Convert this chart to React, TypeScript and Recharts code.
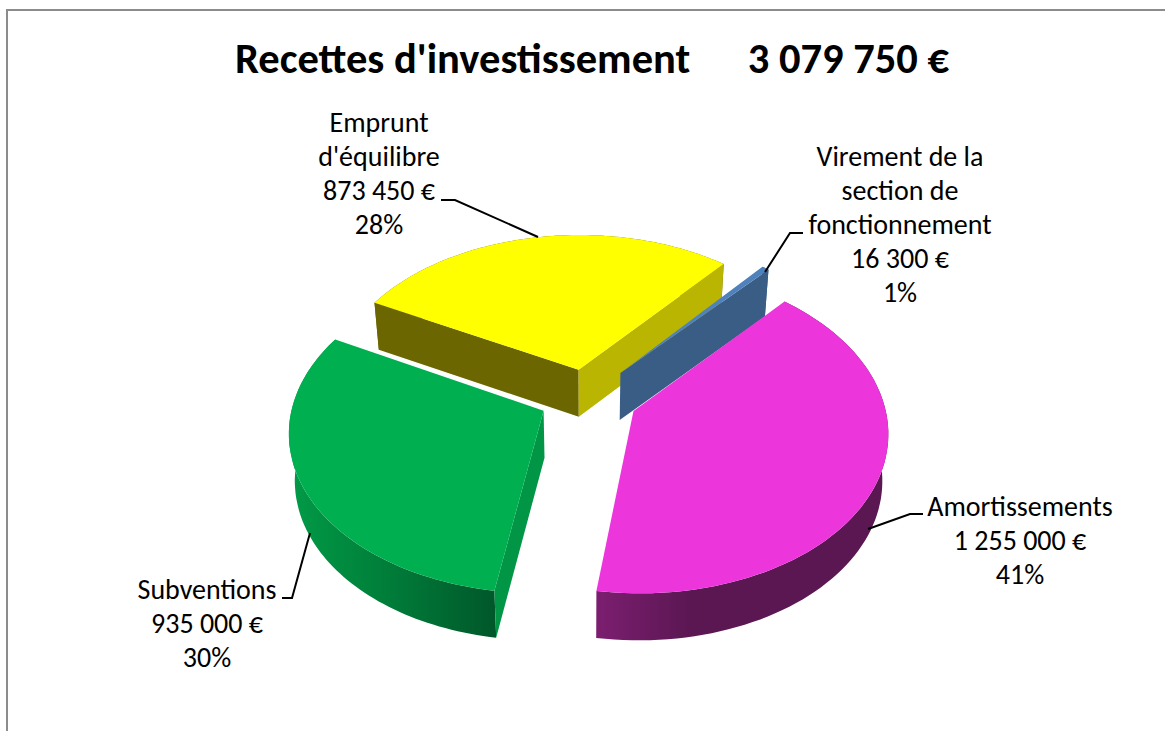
import React from "react";
import { PieChart, Pie } from "recharts";

const categories = ["Emprunt d'équilibre", "Virement de la section de fonctionnement", "Amortissements", "Subventions"];
const amounts = [873450, 16300, 1255000, 935000];
const labelLines = [
  ["Emprunt", "d'équilibre"],
  ["Virement de la", "section de", "fonctionnement"],
  ["Amortissements"],
  ["Subventions"],
];
const chartTitle = "Recettes d'investissement\u00a0\u00a0\u00a0\u00a0\u00a0\u00a03 079 750 €";

const W = 1165, H = 731, CX = 587, CY = 397, R = 260;
const KP = 0.12, QY = 157, HX = 0.96, DEPTH = 47, SHRINK = 0.98;

const styles = [
  { top: "#FFFF00", startWall: "#6B6600", endWall: "#B9B500", rim: [[0, "#6B6600"], [1, "#6B6600"]], explode: 47 },
  { top: "#4F81BD", startWall: null, endWall: "#3A5D85", rim: [[0, "#3A5D85"], [1, "#3A5D85"]], explode: 54 },
  { top: "#EC36DC", startWall: null, endWall: null, rim: [[0, "#7C1E70"], [0.33, "#5A1752"], [1, "#5A1752"]], explode: 53 },
  { top: "#00B050", startWall: "#009645", endWall: null, rim: [[0, "#009B47"], [0.45, "#007F3A"], [1, "#00572A"]], explode: 50 },
];
const labelLayout = [
  { x: 379, y: 132, line: [[441, 200], [455, 200], [538, 237]] },
  { x: 900, y: 166, line: [[803, 233], [790, 233], [765, 272]] },
  { x: 1020, y: 516, line: [[923, 514], [910, 514], [868, 529]] },
  { x: 207, y: 599, line: [[282, 598], [292, 598], [310, 533]] },
];
const LINE_H = 34;
const data = categories.map((name, i) => ({ name, value: amounts[i], idx: i }));
const fmt = (n: number) => String(n).replace(/\B(?=(\d{3})+$)/g, " ") + " €";

function project(cx: number, cy: number, r: number, X: number, Y: number, z: number) {
  const nx = X / r, ny = Y / r;
  const s = 1 / (1 - KP * ny);
  const shrink = z > 0 ? SHRINK : 1;
  return [cx + nx * r * s * HX * shrink, cy + QY * ny * s + z];
}

function Slice3D(props: any) {
  const { cx, cy, outerRadius: r, startAngle, endAngle, midAngle, payload } = props;
  const idx = props.idx ?? payload?.idx ?? 0;
  const st = styles[idx];
  const rad = Math.PI / 180;
  const ox = st.explode * Math.cos(midAngle * rad);
  const oy = -st.explode * Math.sin(midAngle * rad);
  const pt = (rr: number, a: number, z: number) =>
    project(cx, cy, r, ox + rr * Math.cos(a * rad), oy - rr * Math.sin(a * rad), z);
  const n = 80;
  const rimTop: number[][] = [], rimBot: number[][] = [];
  for (let i = 0; i <= n; i++) {
    const a = startAngle + ((endAngle - startAngle) * i) / n;
    rimTop.push(pt(r, a, 0));
    rimBot.push(pt(r, a, DEPTH));
  }
  const apex = pt(0, 0, 0), apexB = pt(0, 0, DEPTH);
  const toS = (p: number[][]) => p.map((q) => q[0].toFixed(1) + "," + q[1].toFixed(1)).join(" ");
  const gid = "rim" + idx;
  return (
    <g>
      <defs>
        <linearGradient id={gid} x1="0" x2="1" y1="0" y2="0">
          {st.rim.map((s: any, i: number) => <stop key={i} offset={s[0]} stopColor={s[1]} />)}
        </linearGradient>
      </defs>
      <polygon points={toS([...rimTop, ...rimBot.slice().reverse()])} fill={`url(#${gid})`} />
      {st.startWall && <polygon points={toS([apex, rimTop[0], rimBot[0], apexB])} fill={st.startWall} />}
      {st.endWall && <polygon points={toS([apex, rimTop[n], rimBot[n], apexB])} fill={st.endWall} />}
      <polygon points={toS([apex, ...rimTop])} fill={st.top} />
    </g>
  );
}

function SliceLabel(props: any) {
  const idx = props.idx ?? props.payload?.idx ?? props.index;
  const lay = labelLayout[idx];
  const lines = [...labelLines[idx], fmt(amounts[idx]), Math.round(props.percent * 100) + "%"];
  return (
    <g>
      <polyline points={lay.line.map((p) => p.join(",")).join(" ")} fill="none" stroke="#000" strokeWidth={2} />
      {lines.map((t, i) => (
        <text key={i} x={lay.x} y={lay.y + i * LINE_H} textAnchor="middle" fontFamily="Carlito, Lato, sans-serif" fontSize={28} fill="#000">
          {t}
        </text>
      ))}
    </g>
  );
}

export default function App() {
  return (
    <div style={{ position: "absolute", left: 0, top: 0, width: W, height: H, overflow: "hidden", background: "#fff" }}>
      <PieChart width={W} height={H} margin={{ top: 0, right: 0, bottom: 0, left: 0 }}>
        <rect x={7} y={10} width={W + 20} height={H + 20} fill="none" stroke="#8c8c8c" strokeWidth={2} />
        <text x={592} y={73} textAnchor="middle" fontFamily="Carlito, Lato, sans-serif" fontWeight={700} fontSize={42.5} fill="#000">
          {chartTitle}
        </text>
        <Pie
          data={data}
          dataKey="value"
          nameKey="name"
          cx={CX}
          cy={CY}
          outerRadius={R}
          startAngle={152}
          endAngle={-208}
          paddingAngle={0}
          stroke="none"
          isAnimationActive={false}
          shape={Slice3D}
          label={SliceLabel}
          labelLine={false}
        />
      </PieChart>
    </div>
  );
}
